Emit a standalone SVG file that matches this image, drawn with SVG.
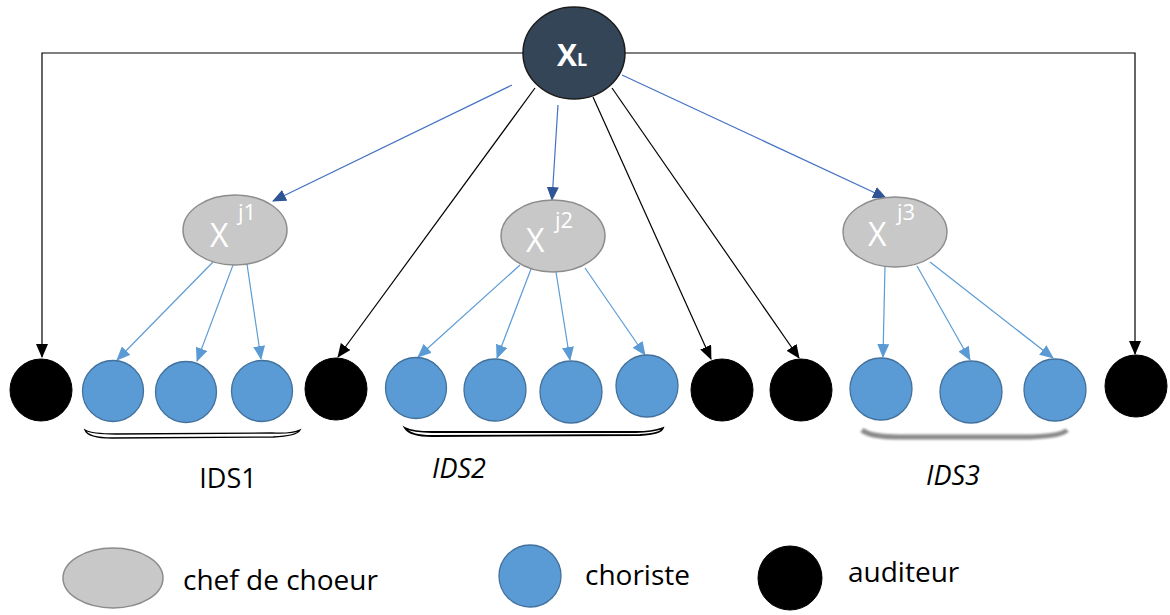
<svg xmlns="http://www.w3.org/2000/svg" width="1170" height="615" viewBox="0 0 1170 615">
<style>
.chef{fill:#C8C8C8;stroke:#8C8C8C;stroke-width:1.5}
.chor{fill:#5B9BD5;stroke:#41719C;stroke-width:1.3}
.aud{fill:#000;stroke:#000}
.lbl{font-family:"Open Sans",sans-serif;fill:#000}
.wt{font-family:"Open Sans",sans-serif;fill:#fff}
.cb{fill:none;stroke:#000;stroke-width:1.2}
.cd{fill:none;stroke:#4472C4;stroke-width:1.2}
.cl{fill:none;stroke:#5B9BD5;stroke-width:1.2}
</style>
<defs>
<marker id="ab" markerUnits="userSpaceOnUse" markerWidth="14" markerHeight="12" viewBox="0 0 14 12" refX="13" refY="6" orient="auto"><path d="M0,0 L14,6 L0,12 Z" fill="#000"/></marker>
<marker id="ad" markerUnits="userSpaceOnUse" markerWidth="14" markerHeight="12" viewBox="0 0 14 12" refX="13" refY="6" orient="auto"><path d="M0,0 L14,6 L0,12 Z" fill="#2F5597"/></marker>
<marker id="al" markerUnits="userSpaceOnUse" markerWidth="14" markerHeight="12" viewBox="0 0 14 12" refX="13" refY="6" orient="auto"><path d="M0,0 L14,6 L0,12 Z" fill="#5B9BD5"/></marker>
<filter id="blur" x="-10%" y="-100%" width="120%" height="300%"><feGaussianBlur stdDeviation="1.2"/></filter>
</defs>

<g id="connectors">
<polyline class="cb" points="523,53 42,53 42,357" marker-end="url(#ab)"/>
<polyline class="cb" points="625,53 1135,53 1135,354" marker-end="url(#ab)"/>
<line class="cd" x1="512" y1="85" x2="273" y2="201" marker-end="url(#ad)"/>
<line class="cd" x1="558" y1="105" x2="552" y2="200" marker-end="url(#ad)"/>
<line class="cd" x1="622" y1="75" x2="886" y2="198" marker-end="url(#ad)"/>
<line class="cb" x1="535" y1="88" x2="338" y2="357" marker-end="url(#ab)"/>
<line class="cb" x1="593" y1="97" x2="711" y2="359" marker-end="url(#ab)"/>
<line class="cb" x1="612" y1="88" x2="799" y2="358" marker-end="url(#ab)"/>
<line class="cl" x1="213" y1="262" x2="117" y2="360" marker-end="url(#al)"/>
<line class="cl" x1="233" y1="265" x2="197" y2="361" marker-end="url(#al)"/>
<line class="cl" x1="247" y1="264" x2="261" y2="359" marker-end="url(#al)"/>
<line class="cl" x1="520" y1="265" x2="418" y2="357" marker-end="url(#al)"/>
<line class="cl" x1="531" y1="269" x2="497" y2="358" marker-end="url(#al)"/>
<line class="cl" x1="556" y1="272" x2="570" y2="360" marker-end="url(#al)"/>
<line class="cl" x1="585" y1="268" x2="645" y2="355" marker-end="url(#al)"/>
<line class="cl" x1="885" y1="266" x2="883" y2="357" marker-end="url(#al)"/>
<line class="cl" x1="917" y1="266" x2="970" y2="360" marker-end="url(#al)"/>
<line class="cl" x1="930" y1="262" x2="1053" y2="358" marker-end="url(#al)"/>
</g>

<g id="XL">
<ellipse cx="574" cy="53" rx="51" ry="46" fill="#344558" stroke="#1b1b1b" stroke-width="1.5"/>
<text class="wt" x="557" y="66" font-size="30" font-weight="bold">X<tspan font-size="18" font-weight="bold">L</tspan></text>
</g>

<g id="Xj1">
<ellipse class="chef" cx="235" cy="230" rx="52" ry="35"/>
<text class="wt" x="210" y="247" font-size="32">X</text>
<text class="wt" x="238" y="220" font-size="22">j1</text>
</g>
<g id="Xj2">
<ellipse class="chef" cx="553" cy="236" rx="52" ry="36"/>
<text class="wt" x="526" y="252" font-size="32">X</text>
<text class="wt" x="555" y="228" font-size="22">j2</text>
</g>
<g id="Xj3">
<ellipse class="chef" cx="895" cy="232" rx="52" ry="35"/>
<text class="wt" x="868" y="246" font-size="32">X</text>
<text class="wt" x="897" y="220" font-size="22">j3</text>
</g>

<g id="aud1"><circle class="aud" cx="41" cy="390" r="31"/></g>
<g id="chor1"><circle class="chor" cx="113" cy="391" r="30.5"/></g>
<g id="chor2"><circle class="chor" cx="186" cy="392" r="30.5"/></g>
<g id="chor3"><circle class="chor" cx="262" cy="391" r="30.5"/></g>
<g id="aud2"><circle class="aud" cx="336" cy="389" r="31"/></g>
<g id="chor4"><circle class="chor" cx="416" cy="388" r="30.5"/></g>
<g id="chor5"><circle class="chor" cx="495" cy="390" r="31"/></g>
<g id="chor6"><circle class="chor" cx="571" cy="392" r="31"/></g>
<g id="chor7"><circle class="chor" cx="647" cy="386" r="31"/></g>
<g id="aud3"><circle class="aud" cx="722" cy="390" r="31"/></g>
<g id="aud4"><circle class="aud" cx="801" cy="390" r="31"/></g>
<g id="chor8"><circle class="chor" cx="881" cy="389" r="31"/></g>
<g id="chor9"><circle class="chor" cx="971" cy="392" r="31"/></g>
<g id="chor10"><circle class="chor" cx="1055" cy="390" r="31"/></g>
<g id="aud5"><circle class="aud" cx="1136" cy="386" r="31"/></g>

<g id="IDS1">
<path d="M85,430 Q88,438 112,438 L273,437 Q297,436 300,430 Q292,434 272,433 L115,434 Q92,434 85,430 Z" fill="#fff" stroke="#000" stroke-width="1.3"/>
<text class="lbl" x="228" y="488" font-size="27" text-anchor="middle">IDS1</text>
</g>
<g id="IDS2">
<path d="M405,428 Q410,436 432,436 L640,435 Q661,434 663,428 Q652,432 636,432 L432,432 Q413,432 405,428 Z" fill="#fff" stroke="#000" stroke-width="1.8"/>
<text class="lbl" x="459" y="478" font-size="27" font-style="italic" text-anchor="middle">IDS2</text>
</g>
<g id="IDS3">
<path d="M862,430 Q870,437 900,437 L1030,437 Q1062,436 1067,430" fill="none" stroke="#8a8a8a" stroke-width="5" filter="url(#blur)"/>
<text class="lbl" x="953" y="485" font-size="27" font-style="italic" text-anchor="middle">IDS3</text>
</g>

<g id="legend">
<ellipse class="chef" cx="113" cy="578" rx="50" ry="30"/>
<text class="lbl" x="183" y="590" font-size="28">chef de choeur</text>
<ellipse class="chor" cx="530" cy="576" rx="31" ry="31"/>
<text class="lbl" x="585" y="585" font-size="28">choriste</text>
<ellipse class="aud" cx="790" cy="578" rx="32" ry="32"/>
<text class="lbl" x="848" y="582" font-size="28">auditeur</text>
</g>
</svg>
